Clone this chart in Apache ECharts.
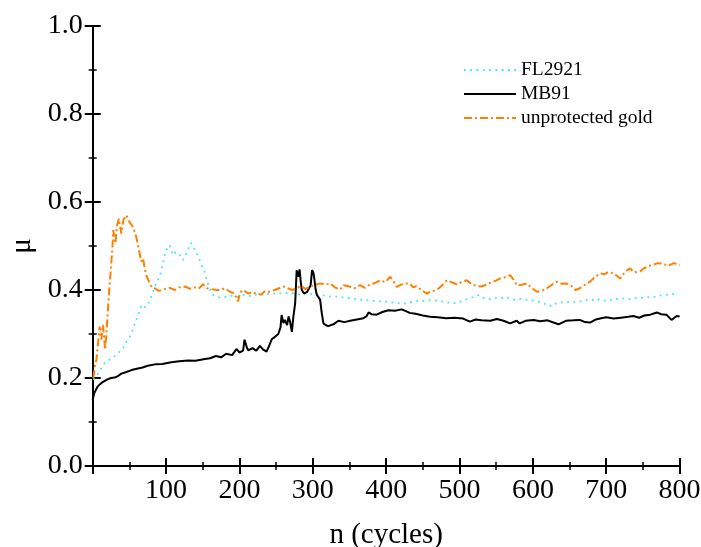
<!DOCTYPE html>
<html>
<head>
<meta charset="utf-8">
<script src="https://cdn.jsdelivr.net/npm/echarts@6/dist/echarts.min.js"></script>
<style>
  html, body { margin: 0; padding: 0; background: #fff; }
  #chart { width: 701px; height: 547px; }
</style>
</head>
<body>
<div id="chart"></div>
<script>
// 摩擦系数随循环次数变化（三条曲线）
const xTicks = [0, 100, 200, 300, 400, 500, 600, 700, 800];
const yTicks = [0.0, 0.2, 0.4, 0.6, 0.8, 1.0];

// FL2921（青色点线）
const nFL = [1,5,9.5,13,16.4,20,25.5,32,39,43,46,50,53,57.5,62,66.6,70,73,76,79,82,84.5,89,93,96,99,102,105,109.5,113,116,120,123,127.6,131,134,137,140,145.7,149,152.6,157,160,164,169,175,182,190,197,205,213,220,228,236,243,251,259,267,275,283,290,296,304,312,320,328,336,344,352,360,369,378,387,396,405,414,422,430,437,445,452,460,468,476,484,490,496,503,510,517,522,527,533,540,548,555,562,569,576,583,590,596,603,610,617,622,626,632,640,646,655,664,672,680,686,691.6,700,708,716,724,730,737,745,752,760,768,775,782,789,796];
const muFL = [0.196,0.205,0.215,0.228,0.234,0.238,0.245,0.252,0.264,0.272,0.283,0.292,0.302,0.324,0.343,0.366,0.362,0.361,0.370,0.381,0.395,0.408,0.423,0.440,0.461,0.487,0.495,0.502,0.479,0.486,0.485,0.476,0.468,0.483,0.496,0.507,0.498,0.490,0.468,0.455,0.441,0.415,0.400,0.389,0.385,0.382,0.385,0.387,0.384,0.389,0.386,0.390,0.388,0.392,0.390,0.393,0.392,0.394,0.392,0.389,0.393,0.391,0.390,0.388,0.386,0.385,0.385,0.382,0.381,0.379,0.377,0.376,0.374,0.375,0.372,0.371,0.368,0.372,0.373,0.376,0.375,0.377,0.376,0.374,0.372,0.370,0.370,0.375,0.379,0.383,0.386,0.389,0.382,0.379,0.382,0.381,0.384,0.381,0.377,0.380,0.378,0.377,0.376,0.372,0.368,0.366,0.362,0.370,0.372,0.373,0.372,0.374,0.377,0.376,0.381,0.377,0.375,0.378,0.380,0.381,0.379,0.381,0.383,0.382,0.384,0.385,0.388,0.389,0.390,0.393];

// MB91（黑色实线）
const nMB = [0,2,4,7,10,13,16,20,25,30,35,39,45,53,60,68,75,85,95,107,118,130,140,153,160,168,175,182,190,196,200,205,207,210,212,218,223,228,232,237,241,244,248,253,256,257.5,260,262,265,267,269,271.5,273.5,276,278,280,282,283.5,285,288,290,292,294,297,299,301,302,304,305.5,308,310,312,314.5,318,321,328,335,343,351,360,369,373,376,380,387,395,403,412,421,427,432,440,450,460,470,482,493,505,514,522,530,542,551,560,569,578,582,590,601,610,620,628,635,645,655,664,671,678,686,693,700,710,720,730,737,745,752,760,769,775,782,789,796,800];
const muMB = [0.150,0.165,0.172,0.181,0.186,0.190,0.193,0.197,0.200,0.201,0.205,0.210,0.213,0.218,0.221,0.224,0.228,0.231,0.232,0.236,0.238,0.240,0.239,0.243,0.245,0.250,0.247,0.255,0.252,0.266,0.258,0.262,0.287,0.270,0.263,0.268,0.262,0.273,0.265,0.260,0.275,0.288,0.293,0.300,0.315,0.343,0.325,0.332,0.320,0.340,0.328,0.305,0.339,0.370,0.445,0.430,0.447,0.420,0.400,0.392,0.389,0.395,0.391,0.410,0.445,0.438,0.427,0.400,0.389,0.385,0.378,0.350,0.324,0.320,0.318,0.322,0.330,0.327,0.330,0.333,0.336,0.340,0.349,0.345,0.344,0.350,0.354,0.353,0.356,0.352,0.348,0.346,0.342,0.339,0.338,0.336,0.337,0.335,0.328,0.333,0.331,0.330,0.334,0.330,0.324,0.330,0.324,0.330,0.332,0.329,0.331,0.326,0.322,0.330,0.331,0.332,0.327,0.326,0.333,0.336,0.338,0.335,0.337,0.339,0.341,0.337,0.342,0.344,0.349,0.345,0.344,0.332,0.341,0.340];

// unprotected gold（橙色点划线）
const nAu = [1,3,5,7,9.5,11.8,14,17,19,21,23,25,27,28,31,33,35.5,39,42,46,50,55,59.5,62,64,66,68.6,71,73,77.7,81,84.5,90,98,105,112,118,125.6,132,139,145,150.6,156,162,169,173.5,180,187,193,198,201,205,212,218,223,230,235,241,248,254,260,266,272,278,284,290,296,303,310,317,324,330,337,342,350,357,364.5,371,378,385,392,399,405.6,410,414.5,420,426,432,437,441,448,455,462,469,476,482.5,489,496,503,510,516,523.5,530,536,541.6,548,555,560,564,569,573,578,585,592,598,605.6,612,619,626,633,640,646,652,658,664,671,678,685,691.6,698,703,709.6,714,719,726,732.6,738,746,752,758,764,770,778,783,787,792,796,800];
const muAu = [0.200,0.228,0.241,0.275,0.317,0.287,0.321,0.264,0.310,0.362,0.410,0.453,0.500,0.536,0.506,0.545,0.562,0.528,0.560,0.570,0.555,0.543,0.520,0.500,0.483,0.465,0.472,0.448,0.434,0.415,0.405,0.404,0.398,0.402,0.405,0.400,0.406,0.408,0.403,0.406,0.404,0.413,0.404,0.402,0.400,0.400,0.404,0.396,0.392,0.374,0.395,0.400,0.392,0.396,0.391,0.390,0.398,0.396,0.400,0.404,0.408,0.404,0.400,0.404,0.410,0.402,0.408,0.411,0.415,0.412,0.415,0.406,0.401,0.411,0.408,0.404,0.411,0.405,0.413,0.416,0.422,0.418,0.430,0.420,0.407,0.412,0.415,0.415,0.406,0.409,0.400,0.392,0.397,0.400,0.410,0.422,0.418,0.413,0.418,0.422,0.414,0.409,0.408,0.412,0.416,0.420,0.426,0.428,0.430,0.434,0.425,0.411,0.412,0.415,0.405,0.396,0.398,0.404,0.412,0.419,0.414,0.415,0.410,0.400,0.404,0.412,0.419,0.430,0.438,0.436,0.441,0.438,0.433,0.426,0.442,0.449,0.440,0.442,0.450,0.455,0.457,0.461,0.460,0.455,0.457,0.461,0.459,0.456];

function zip(xs, ys) {
    return xs.map(function (x, i) { return [x, ys[i]]; });
}

const FONT = '"Liberation Serif", "DejaVu Serif", serif';
const chart = echarts.init(document.getElementById('chart'));

const frameAxis = {
    axisLine: { show: true, lineStyle: { color: '#000', width: 2 } },
    axisTick: { show: true, inside: true, length: 8, lineStyle: { color: '#000', width: 2 } },
    minorTick: { show: true, splitNumber: 2, length: 4, lineStyle: { color: '#000', width: 1.5 } },
    splitLine: { show: false }
};

const option = {
    backgroundColor: '#fff',
    animation: false,
    grid: { left: 92.7, right: 21.4, top: 26, bottom: 81, containLabel: false, outerBoundsMode: 'none' },
    legend: {
        orient: 'vertical',
        left: 458,
        top: 55,
        itemWidth: 52,
        itemHeight: 14,
        itemGap: 4,
        itemStyle: { opacity: 0 },
        textStyle: { fontFamily: FONT, fontSize: 19.5, color: '#000' },
        data: ['FL2921', 'MB91', 'unprotected gold']
    },
    xAxis: [
        Object.assign({
            type: 'value', min: 0, max: 800, interval: 100,
            name: 'n (cycles)', nameLocation: 'middle', nameGap: 55,
            nameTextStyle: { fontFamily: FONT, fontSize: 29, color: '#000' },
            axisLabel: {
                fontFamily: FONT, fontSize: 28, color: '#000', margin: 11,
                formatter: function (v) { return v === 0 ? '' : String(v); }
            }
        }, frameAxis),
        Object.assign({
            type: 'value', min: 0, max: 800, interval: 100, position: 'top',
            axisLabel: { show: false }
        }, frameAxis)
    ],
    yAxis: [
        Object.assign({
            type: 'value', min: 0, max: 1, interval: 0.2,
            name: 'μ', nameLocation: 'middle', nameGap: 56,
            nameTextStyle: { fontFamily: FONT, fontSize: 29, color: '#000' },
            axisLabel: {
                fontFamily: FONT, fontSize: 28, color: '#000', margin: 10,
                formatter: function (v) { return v.toFixed(1); }
            }
        }, frameAxis),
        Object.assign({
            type: 'value', min: 0, max: 1, interval: 0.2, position: 'right',
            axisLabel: { show: false }
        }, frameAxis)
    ],
    series: [
        {
            name: 'FL2921', type: 'line', data: zip(nFL, muFL),
            symbol: 'none',
            lineStyle: { color: '#3ee8f0', width: 1.8, type: [1.8, 4.5] },
            itemStyle: { color: '#3ee8f0' }, z: 2
        },
        {
            name: 'MB91', type: 'line', data: zip(nMB, muMB),
            symbol: 'none',
            lineStyle: { color: '#000', width: 2, type: 'solid' },
            itemStyle: { color: '#000' }, z: 3
        },
        {
            name: 'unprotected gold', type: 'line', data: zip(nAu, muAu),
            symbol: 'none',
            lineStyle: { color: '#ff8000', width: 2, type: [8, 3, 2, 3] },
            itemStyle: { color: '#ff8000' }, z: 4
        }
    ]
};

chart.setOption(option);
</script>
</body>
</html>
